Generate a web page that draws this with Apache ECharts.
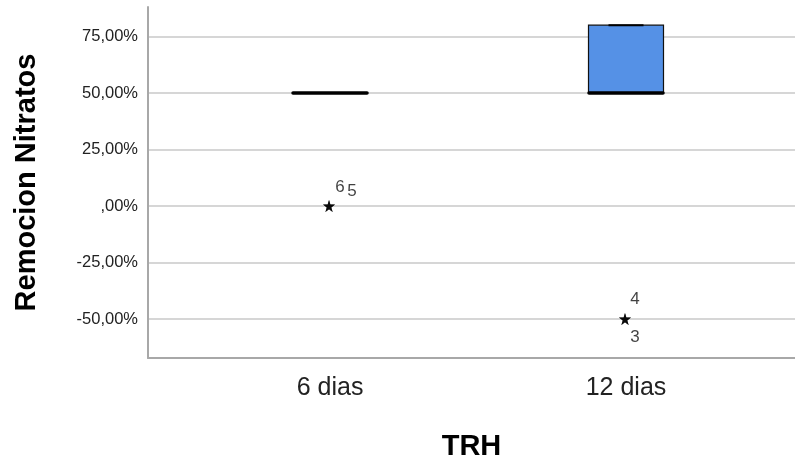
<!DOCTYPE html>
<html>
<head>
<meta charset="utf-8">
<script src="https://cdn.jsdelivr.net/npm/echarts@6/dist/echarts.min.js"></script>
<style>
  html, body { margin: 0; padding: 0; background: #fff; }
  #chart { width: 795px; height: 461px; }
</style>
</head>
<body>
<div id="chart"></div>
<script>
// Groups on the horizontal axis and their positions
const categories = ['6 dias', '12 dias'];
const categoryPos = [1, 2];

// Five-number summary per group (percent)
const boxMin = [50, 50];
const boxQ1 = [50, 50];
const boxMedian = [50, 50];
const boxQ3 = [50, 80];
const boxMax = [50, 80];

// Extreme cases (star markers) with case numbers
const outlierGroup = [1, 1, 2, 2];
const outlierValue = [0, 0, -50, -50];
const outlierCase = ['6', '5', '4', '3'];

// Tick values on the percent axis
const yTicks = [-50, -25, 0, 25, 50, 75];

const FONT = '"Liberation Sans", Arial, sans-serif';
const STAR = 'path://M50,0 L61,35 L98,35 L68,57 L79,91 L50,70 L21,91 L32,57 L2,35 L39,35 Z';

const boxData = categoryPos.map((x, i) => [x, boxMin[i], boxQ1[i], boxMedian[i], boxQ3[i], boxMax[i]]);
const medianData = categoryPos.map((x, i) => [x, boxMedian[i]]);
const capData = categoryPos.map((x, i) => [x, boxMax[i]]);

// label placement for the case numbers around each star
const caseOffsets = [[11, -19], [23, -15], [10, -20], [10, 18]];
const outlierData = outlierGroup.map((g, i) => ({
  value: [g, outlierValue[i]],
  label: { show: true, formatter: outlierCase[i], offset: caseOffsets[i] }
}));

function fmtPct(v) {
  const s = Math.abs(v).toFixed(2).replace('.', ',');
  const body = s.startsWith('0,') ? s.slice(1) : s;
  return (v < 0 ? '-' : '') + body + '%';
}

const chart = echarts.init(document.getElementById('chart'));
chart.setOption({
  animation: false,
  backgroundColor: '#ffffff',
  grid: { left: 148, right: 0, top: 7, bottom: 103, containLabel: false, outerBoundsMode: 'none' },
  xAxis: {
    type: 'value',
    min: 0.385,
    max: 2.571,
    name: 'TRH',
    nameLocation: 'middle',
    nameGap: 74,
    nameTextStyle: { fontFamily: FONT, fontSize: 29, fontWeight: 'bold', color: '#000' },
    axisLine: { show: true, onZero: false, lineStyle: { color: '#a8a8a8', width: 2 } },
    axisTick: { show: false, customValues: categoryPos },
    splitLine: { show: false },
    axisLabel: {
      customValues: categoryPos,
      formatter: v => categories[Math.round(v) - 1],
      fontFamily: FONT, fontSize: 25, color: '#222', margin: 18
    }
  },
  yAxis: {
    type: 'value',
    min: -67.26,
    max: 88.05,
    name: 'Remocion Nitratos',
    nameLocation: 'middle',
    nameGap: 107,
    nameTextStyle: { fontFamily: FONT, fontSize: 29, fontWeight: 'bold', color: '#000' },
    axisLine: { show: true, onZero: false, lineStyle: { color: '#a8a8a8', width: 2 } },
    axisTick: { show: false, customValues: yTicks },
    splitLine: { show: true, lineStyle: { color: '#d6d6d6', width: 2 } },
    axisLabel: {
      customValues: yTicks,
      formatter: fmtPct,
      fontFamily: FONT, fontSize: 16.5, color: '#222', margin: 10
    }
  },
  series: [
    {
      type: 'boxplot',
      data: boxData,
      boxWidth: [75, 75],
      itemStyle: { color: '#5591e6', borderColor: '#111', borderWidth: 1.2 },
      emphasis: { disabled: true }
    },
    {
      type: 'custom',
      data: medianData,
      renderItem: (params, api) => {
        const p = api.coord([api.value(0), api.value(1)]);
        return {
          type: 'line',
          shape: { x1: p[0] - 37, y1: p[1], x2: p[0] + 37, y2: p[1] },
          style: { stroke: '#000', lineWidth: 3.5, lineCap: 'round' }
        };
      },
      z: 5
    },
    {
      type: 'custom',
      data: capData,
      renderItem: (params, api) => {
        const p = api.coord([api.value(0), api.value(1)]);
        return {
          type: 'line',
          shape: { x1: p[0] - 17.5, y1: p[1], x2: p[0] + 17.5, y2: p[1] },
          style: { stroke: '#000', lineWidth: 2 }
        };
      },
      z: 5
    },
    {
      type: 'scatter',
      data: outlierData,
      symbol: STAR,
      symbolSize: 12,
      symbolOffset: [-1, 0],
      itemStyle: { color: '#000' },
      label: { position: 'inside', fontFamily: FONT, fontSize: 17, color: '#111' },
      z: 6
    }
  ]
});
</script>
</body>
</html>
